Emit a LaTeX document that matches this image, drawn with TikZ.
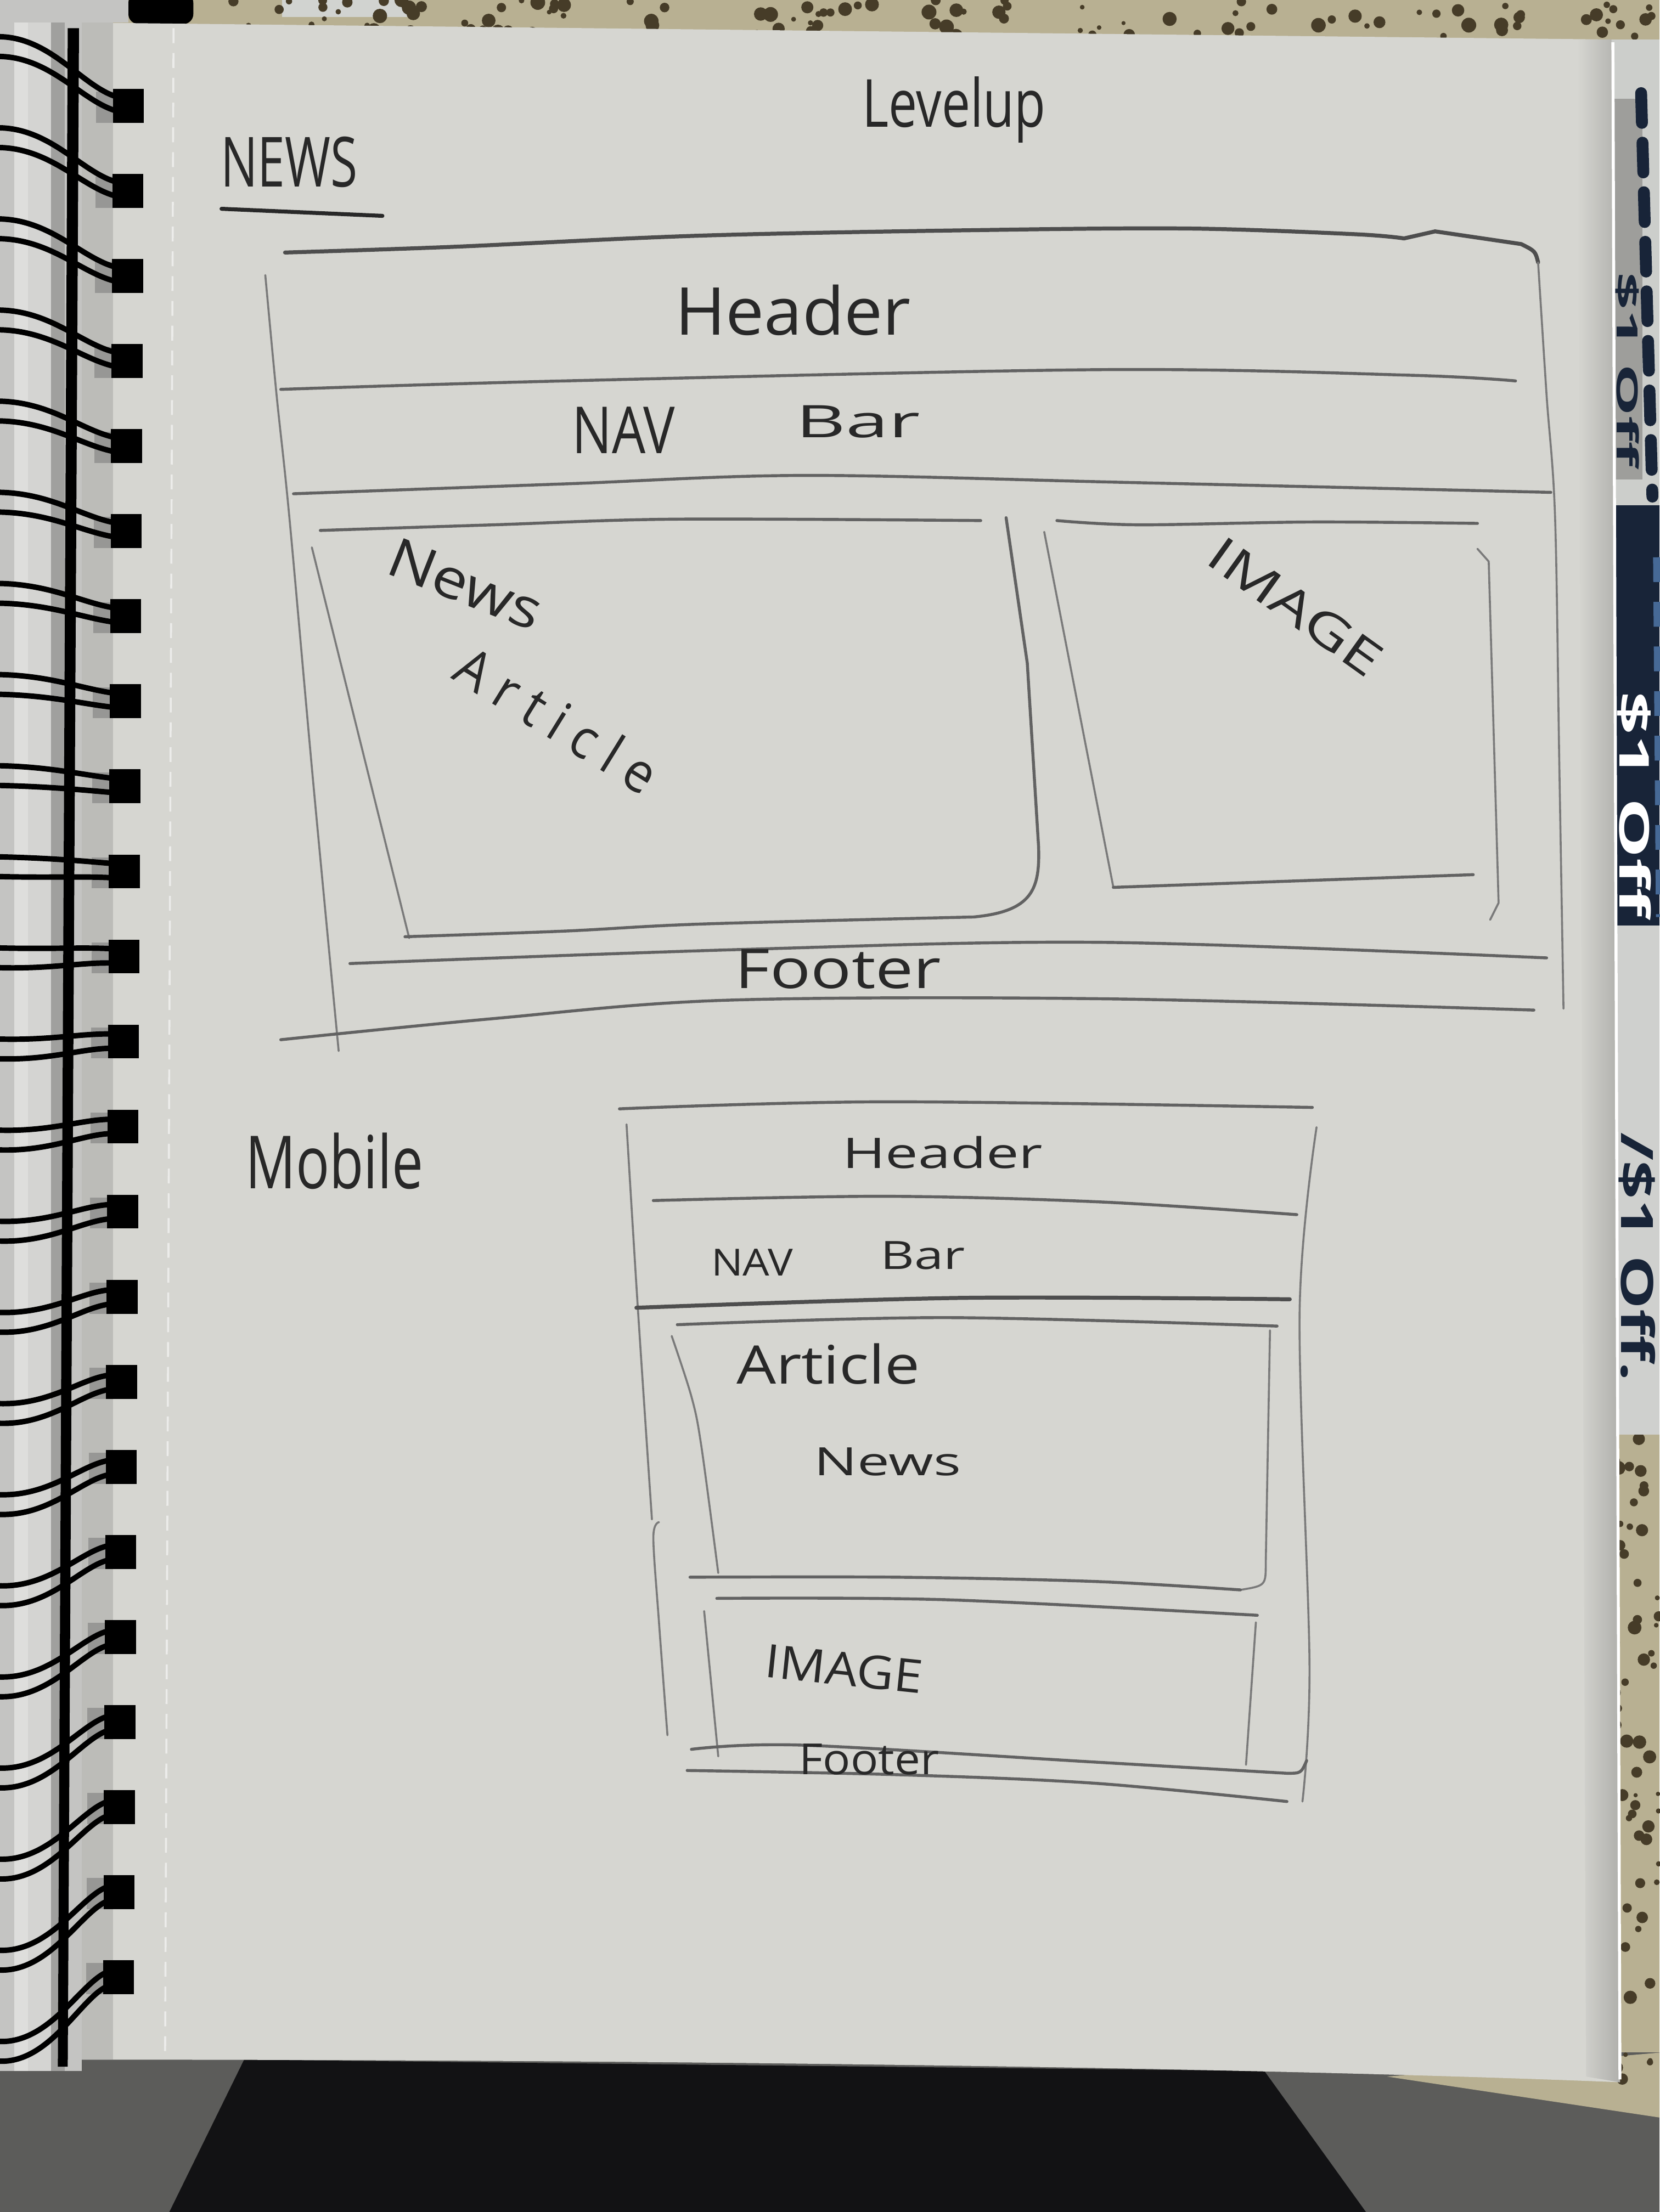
\documentclass[tikz,border=0pt]{standalone}
\usepackage{fontspec}
\usepackage{graphicx}
\newfontfamily\handfont{Open Sans}
\newfontfamily\spacedhand{Open Sans}[LetterSpace=25]
\newlength\hwunit
\setlength\hwunit{0.1mm}
% hand lettering squeezed into a given ink box (width, total height)
\newcommand\hw[3]{\resizebox*{#1\hwunit}{#2\hwunit}{\handfont #3}}
\definecolor{paper}{RGB}{214,214,209}
\definecolor{stack}{RGB}{196,196,194}
\definecolor{stacklight}{RGB}{222,222,220}
\definecolor{stackdark}{RGB}{160,160,158}
\definecolor{table}{RGB}{184,176,146}
\definecolor{speck}{RGB}{70,60,40}
\definecolor{carpet}{RGB}{92,92,90}
\definecolor{cloth}{RGB}{18,18,20}
\definecolor{lead}{RGB}{98,98,98}
\definecolor{ink}{RGB}{40,40,40}
\definecolor{navy}{RGB}{24,36,56}
\definecolor{coupon}{RGB}{204,206,203}
\definecolor{couponshade}{RGB}{158,158,155}
\definecolor{couponblue}{RGB}{70,105,150}
\begin{document}
\begin{tikzpicture}[x=0.1mm,y=-0.1mm,
  pencil/.style={draw=lead, line width=0.6pt, line cap=round, line join=round},
  pencilthin/.style={draw=lead!85!white, line width=0.4pt, line cap=round, line join=round},
  pencildark/.style={draw=lead!80!black, line width=0.8pt, line cap=round, line join=round},
  hand/.style={inner sep=0pt, text=ink},
  wire/.style={draw=black, line width=1.1pt, line cap=round},
  curve/.style={smooth, tension=0.55}]
\useasboundingbox (0,0) rectangle (1176,1568);

% ---------- surroundings ----------
\fill[table] (0,0) rectangle (1176,1568);
\fill[carpet] (0,1455) rectangle (1176,1568);
\fill[table] (983,1472) -- (1176,1455) -- (1176,1501) -- cycle;
\fill[cloth] (173,1460) -- (896,1468) -- (968,1568) -- (120,1568) -- cycle;
\fill[coupon!90!white] (200,0) rectangle (290,12);
\fill[stack] (0,0) rectangle (91,16);
\fill[black, rounded corners=2pt] (91,-5) rectangle (137,17);

% speckles on the table top
\pgfmathsetseed{42}
\foreach \k in {1,...,110}{
  \pgfmathsetmacro{\sx}{140+rnd*1036}
  \pgfmathsetmacro{\sy}{rnd*26}
  \pgfmathsetmacro{\sr}{0.4+rnd*1.1}
  \fill[speck] (\sx,\sy) circle[radius=\sr pt];
}
\foreach \k in {1,...,60}{
  \pgfmathsetmacro{\sx}{1143+rnd*33}
  \pgfmathsetmacro{\sy}{1017+rnd*470}
  \pgfmathsetmacro{\sr}{0.4+rnd*1.0}
  \fill[speck] (\sx,\sy) circle[radius=\sr pt];
}

% coupons beside the page
\fill[coupon] (1138,28) rectangle (1176,358);
\fill[couponshade] (1138,70) rectangle (1164,340);
\draw[navy, line width=2.4pt, dash pattern=on 6pt off 4pt, line cap=round]
  (1163,66) -- (1171,352);
\node[inner sep=0pt, text=navy, rotate=-90] (offa) at (1153,262)
  {\resizebox*{138\hwunit}{17\hwunit}{\handfont\bfseries \$1 Off}};
\fill[navy] (1140,358) rectangle (1176,656);
\draw[couponblue, line width=2pt, dash pattern=on 5pt off 4pt] (1175,395) -- (1177,650);
\node[inner sep=0pt, text=white, rotate=-90] (offb) at (1158,570)
  {\resizebox*{160\hwunit}{24\hwunit}{\handfont\bfseries \$1 Off}};
\fill[coupon!95!white] (1140,656) rectangle (1176,1017);
\node[inner sep=0pt, text=navy, rotate=-90] (offc) at (1160,891)
  {\resizebox*{176\hwunit}{26\hwunit}{\handfont\bfseries /\$1 Off.}};

% ---------- notebook ----------
% edges of the page stack under the spiral
\fill[stack] (0,16) rectangle (58,1468);
\fill[stacklight] (10,16) rectangle (20,1468);
\fill[stacklight!60!stack] (20,16) rectangle (36,1468);
\fill[stackdark] (36,16) rectangle (46,1468);
% the page
\fill[paper] (58,16) -- (1142,28) -- (1148,1476) .. controls (900,1466) and (500,1460) .. (58,1460) -- cycle;
\shade[left color=paper, right color=paper!82!black] (1118,28) -- (1142,28) -- (1148,1476) -- (1124,1472) -- cycle;
\draw[white, line width=0.6pt] (1143,30) -- (1148,1474);
\fill[paper!88!black] (58,16) rectangle (80,1460);
\draw[white, opacity=0.55, line width=0.4pt, dash pattern=on 3pt off 2pt] (123,20) -- (117,1458);

% spiral binding
\foreach \i in {0,...,22}{
  \pgfmathsetmacro{\yh}{75+60.3*\i}
  \pgfmathsetmacro{\off}{-42+(\yh-75)*0.07125}
  \pgfmathsetmacro{\xr}{102-0.318*\i}
  \fill[black!55, opacity=0.5] (\xr-34,\yh-10) rectangle (\xr-20,\yh+12);
  \fill[black] (\xr-22,\yh-12) rectangle (\xr,\yh+12);
  \draw[wire] (0,\yh+\off-7) .. controls (40,\yh+\off-6) and (62,\yh-7) .. (\xr-12,\yh-5);
  \draw[wire] (0,\yh+\off+7) .. controls (40,\yh+\off+8) and (62,\yh+3) .. (\xr-12,\yh+5);
}
\fill[black] (48,20) -- (56,20) -- (48,1465) -- (41,1465) -- cycle;

% ---------- desktop layout sketch ----------
\node[hand] (title) at (676,78) {\hw{130}{47}{Levelup}};
\node[hand] (newslabel) at (205,115) {\hw{97}{36}{NEWS}};
\draw[pencildark, draw=ink] (157,148) -- (271,153);

% outer frame
\draw[pencildark] plot[curve] coordinates {(202,179) (320,175) (497,167) (700,163) (844,162) (960,166) (995,169)}
  -- (1017,164) -- (1078,173) .. controls (1088,178) .. (1090,186);
\draw[pencilthin] plot[curve] coordinates {(1090,186) (1096,280) (1102,366) (1105,540) (1108,715)};
\draw[pencilthin] plot[curve] coordinates {(188,195) (196,280) (205,366) (222,555) (240,745)};
% header / nav bar / content dividers
\draw[pencil] plot[curve] coordinates {(199,276) (400,270) (783,262) (1000,266) (1074,270)};
\draw[pencil] plot[curve] coordinates {(208,350) (400,343) (570,337) (800,342) (1099,349)};
\node[hand] (header) at (562,220) {\hw{167}{36}{Header}};
\node[hand] (nav) at (442,305) {\hw{73}{33}{NAV}};
\node[hand] (bar) at (608,299) {\hw{88}{23}{Bar}};

% news article box
\draw[pencil] plot[curve] coordinates {(227,376) (350,372) (479,368) (695,369)};
\draw[pencilthin] (221,388) -- (290,665);
\draw[pencil] plot[curve] coordinates {(287,664) (400,660) (497,655) (690,650)}
  .. controls (732,646) and (737,630) .. (736,600) -- (728,470) -- (713,367);
\node[hand, rotate=-21.6] (news) at (330,414) {\hw{114}{28}{News}};
\node[hand, rotate=-31.7] (article) at (395,510)
  {\resizebox*{160\hwunit}{30\hwunit}{\spacedhand Article}};

% image box
\draw[pencil] plot[curve] coordinates {(749,369) (807,372) (930,370) (1047,371)};
\draw[pencilthin] (740,377) -- (789,629);
\draw[pencil] (789,629) -- (1044,620);
\draw[pencilthin] (1047,389) -- (1055,398) -- (1062,640) -- (1056,652);
\node[hand, rotate=-35.6] (image) at (918,430) {\hw{142}{25}{IMAGE}};

% footer
\draw[pencil] plot[curve] coordinates {(248,683) (527,673) (783,668) (1096,679)};
\draw[pencil] plot[curve] coordinates {(199,737) (350,722) (515,709) (783,708) (1087,716)};
\node[hand] (footer) at (594,687) {\hw{146}{28}{Footer}};

% ---------- mobile layout sketch ----------
\node[hand] (mobilelabel) at (237,823) {\hw{126}{40}{Mobile}};

\draw[pencil] plot[curve] coordinates {(439,786) (627,781) (930,785)};
\draw[pencilthin] plot[curve] coordinates {(444,797) (452,927) (462,1077)};
\draw[pencilthin] plot[curve] coordinates {(467,1079) (463,1090) (467,1150) (473,1230)};
\draw[pencilthin] plot[curve] coordinates {(933,799) (921,930) (928,1180) (923,1277)};
\draw[pencil] plot[curve] coordinates {(463,851) (627,848) (780,852) (919,861)};
\draw[pencildark] plot[curve] coordinates {(451,927) (682,920) (914,921)};
\node[hand] (mheader) at (668,817) {\hw{142}{23}{Header}};
\node[hand] (mnav) at (533,895) {\hw{58}{19}{NAV}};
\node[hand] (mbar) at (654,890) {\hw{60}{20}{Bar}};

% article box
\draw[pencil] plot[curve] coordinates {(480,939) (671,934) (905,940)};
\draw[pencilthin] plot[curve] coordinates {(476,947) (490,990) (497,1025) (509,1115)};
\draw[pencilthin] (900,943) -- (897,1108) .. controls (897,1124) .. (879,1127);
\draw[pencil] plot[curve] coordinates {(489,1118) (636,1118) (775,1121) (879,1127)};
\node[hand] (marticle) at (587,967) {\hw{130}{29}{Article}};
\node[hand] (mnews) at (629,1036) {\hw{104}{20}{News}};

% image box
\draw[pencil] plot[curve] coordinates {(508,1133) (671,1134) (891,1145)};
\draw[pencilthin] (499,1142) -- (509,1245);
\draw[pencilthin] (890,1150) -- (883,1251);
\node[hand, rotate=-6] (mimage) at (598,1183) {\hw{112}{24}{IMAGE}};

% footer
\draw[pencil] plot[curve] coordinates {(490,1240) (567,1237) (775,1249) (912,1257)}
  .. controls (922,1257) .. (926,1248);
\draw[pencil] plot[curve] coordinates {(487,1255) (636,1258) (775,1264) (912,1277)};
\node[hand] (mfooter) at (616,1247) {\hw{99}{22}{Footer}};
\end{tikzpicture}
\end{document}
